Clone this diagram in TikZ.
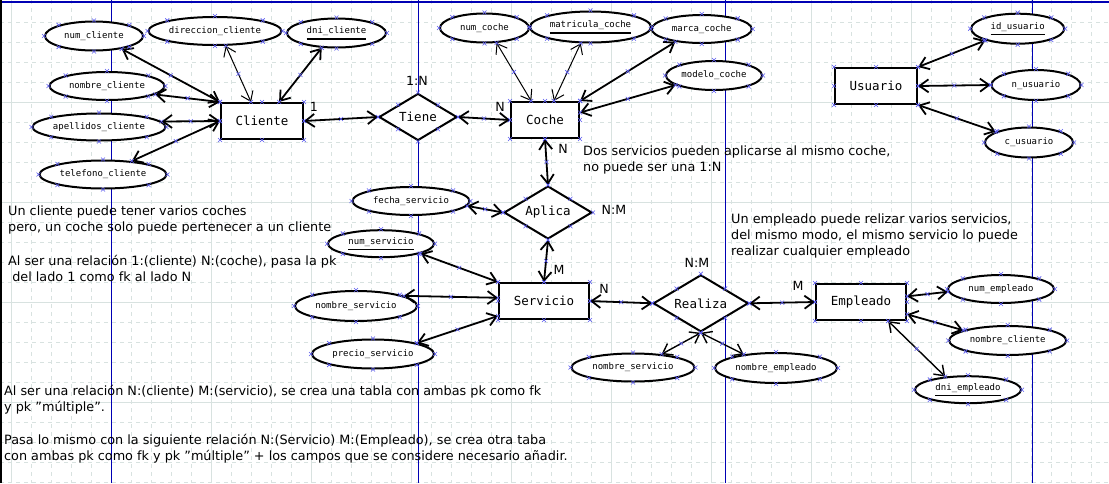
\documentclass[tikz,border=0pt]{standalone}
\usepackage{fontspec}
\setmainfont{DejaVu Sans}
\setmonofont{DejaVu Sans Mono}
\usetikzlibrary{shapes.geometric,arrows.meta,decorations.markings}
\definecolor{gridgray}{RGB}{216,226,224}
\definecolor{pageblue}{RGB}{0,0,180}
\definecolor{selblue}{RGB}{90,90,240}
\newcommand{\pkey}[1]{\vtop{\hbox{#1}\kern2.5pt\hrule height 1.6pt}}
\newcommand{\selcross}{\pgftransformresetnontranslations\draw[selx] (-2pt,-2pt) -- (2pt,2pt) (-2pt,2pt) -- (2pt,-2pt);}

\begin{document}
\begin{tikzpicture}[x=1pt,y=-1pt,
	attr/.style={ellipse,draw,line width=2pt,fill=white,inner sep=0pt,font=\ttfamily\fontsize{9}{10}\selectfont},
	entity/.style={rectangle,draw,line width=2pt,fill=white,inner sep=0pt,minimum height=36pt,font=\ttfamily\fontsize{12.5}{14}\selectfont},
	rel/.style={diamond,aspect=2,draw,line width=2pt,fill=white,inner sep=0pt,font=\ttfamily\fontsize{12.5}{14}\selectfont},
	card/.style={inner sep=0pt,font=\fontsize{12.6}{14}\selectfont},
	note/.style={align=left,anchor=base west,inner sep=0pt,font=\fontsize{12.8}{16}\selectfont},
	selx/.style={-,draw=selblue,line width=0.6pt},
	link/.style={<->,>={Straight Barb[length=9pt,width=13pt]},line width=1.8pt,
		postaction={decorate},decoration={markings,mark=at position 0 with {\selcross},
		mark=at position 0.5 with {\selcross},mark=at position 1 with {\selcross}}},
	thinlink/.style={link,line width=1pt}]
	\useasboundingbox (0,0) rectangle (1109,483);
	\fill[white] (0,0) rectangle (1109,483);
	\foreach \i in {0,...,55}
	\draw[gridgray,line width=0.8pt,dash pattern=on 4pt off 4pt] ({11.7+20*\i},0) -- ({11.7+20*\i},483);
	\foreach \j in {0,...,24}
	\draw[gridgray,line width=0.8pt,dash pattern=on 4pt off 4pt] (0,{2.7+20*\j}) -- (1109,{2.7+20*\j});
	\foreach \i in {0,...,10}
	\draw[gridgray,line width=0.8pt] ({11.7+100*\i},0) -- ({11.7+100*\i},483);
	\foreach \j in {0,...,4}
	\draw[gridgray,line width=0.8pt] (0,{2.7+100*\j}) -- (1109,{2.7+100*\j});
	\foreach \x in {111.5,418.5,725.5,1032.5}
	\draw[pageblue,line width=1pt] (\x,0) -- (\x,483);
	\draw[pageblue,line width=2pt] (0,2) -- (1109,2);
	\draw[black,line width=1.5pt] (0.75,0) -- (0.75,483);

	\node[entity,minimum width=82pt] (cliente) at (262,121) {Cliente};
	\node[entity,minimum width=68pt] (coche) at (545,120) {Coche};
	\node[entity,minimum width=82pt] (usuario) at (876,86) {Usuario};
	\node[entity,minimum width=90pt] (servicio) at (544,301) {Servicio};
	\node[entity,minimum width=90pt] (empleado) at (861,302) {Empleado};

	\node[rel,minimum width=78pt,minimum height=47pt] (tiene) at (418,117) {Tiene};
	\node[rel,minimum width=88pt,minimum height=53pt] (aplica) at (548,212.5) {Aplica};
	\node[rel,minimum width=95pt,minimum height=57pt] (realiza) at (700.8,303.3) {Realiza};

	\node[attr,minimum width=98pt,minimum height=29pt] (numcliente) at (94,36) {num\_cliente};
	\node[attr,minimum width=133pt,minimum height=28pt] (direccion) at (215,31) {direccion\_cliente};
	\node[attr,minimum width=99pt,minimum height=29pt] (dnicliente) at (336.5,33) {\pkey{dni\_cliente}};
	\node[attr,minimum width=115pt,minimum height=28pt] (nombrecliente) at (107,86) {nombre\_cliente};
	\node[attr,minimum width=133pt,minimum height=27pt] (apellidos) at (99,127) {apellidos\_cliente};
	\node[attr,minimum width=127pt,minimum height=28pt] (telefono) at (103,174.5) {telefono\_cliente};
	\node[attr,minimum width=89pt,minimum height=29pt] (numcoche) at (484.5,28) {num\_coche};
	\node[attr,minimum width=121pt,minimum height=31pt] (matricula) at (590.5,27) {\pkey{matricula\_coche}};
	\node[attr,minimum width=100pt,minimum height=28pt] (marca) at (701.7,29) {marca\_coche};
	\node[attr,minimum width=96pt,minimum height=29pt] (modelo) at (714,75.5) {modelo\_coche};
	\node[attr,minimum width=93pt,minimum height=30pt] (idusuario) at (1017.7,28.7) {\pkey{id\_usuario}};
	\node[attr,minimum width=89pt,minimum height=30pt] (nusuario) at (1036,85) {n\_usuario};
	\node[attr,minimum width=88pt,minimum height=30pt] (cusuario) at (1029,142.5) {c\_usuario};
	\node[attr,minimum width=117pt,minimum height=28pt] (fecha) at (411,201) {fecha\_servicio};
	\node[attr,minimum width=106pt,minimum height=27pt] (numservicio) at (381,243.7) {\pkey{num\_servicio}};
	\node[attr,minimum width=122pt,minimum height=30pt] (nomservicio) at (356,306) {nombre\_servicio};
	\node[attr,minimum width=122pt,minimum height=29pt] (precio) at (373,354) {precio\_servicio};
	\node[attr,minimum width=123pt,minimum height=28pt] (nomservicioB) at (633,367.5) {nombre\_servicio};
	\node[attr,minimum width=122pt,minimum height=30pt] (nomempleado) at (776,368) {nombre\_empleado};
	\node[attr,minimum width=106pt,minimum height=28pt] (numempleado) at (1001,289) {num\_empleado};
	\node[attr,minimum width=117pt,minimum height=29pt] (nomclienteB) at (1007.7,340.5) {nombre\_cliente};
	\node[attr,minimum width=106pt,minimum height=27pt] (dniempleado) at (968,389.7) {\pkey{dni\_empleado}};

	\draw[link] (numcliente.-25) -- (cliente.north west);
	\draw[link] (nombrecliente.-10) -- (cliente.north west);
	\draw[link] (apellidos.5) -- (cliente.west);
	\draw[link] (telefono.25) -- (cliente.west);
	\draw[thinlink] (direccion.-54) -- (cliente.120);
	\draw[link] (dnicliente.-135) -- (cliente.48);
	\draw[link] (cliente.east) -- (tiene.west);
	\draw[link] (tiene.east) -- (coche.west);
	\draw[thinlink] (numcoche.-51) -- (coche.126);
	\draw[thinlink] (matricula.-121) -- (coche.65);
	\draw[link] (marca.-154) -- (coche.north east);
	\draw[link] (modelo.-166) -- (coche.12);
	\draw[link] (coche.south) -- (aplica.north);
	\draw[link] (fecha.-5) -- (aplica.west);
	\draw[link] (aplica.south) -- (servicio.north);
	\draw[link] (numservicio.-14) -- (servicio.north west);
	\draw[link] (nomservicio.12) -- (servicio.176);
	\draw[link] (precio.14) -- (servicio.-162);
	\draw[link] (servicio.east) -- (realiza.west);
	\draw[link] (realiza.east) -- (empleado.west);
	\draw[link,line width=1.4pt] (realiza.south) -- (nomservicioB.25);
	\draw[link,line width=1.4pt] (realiza.south) -- (nomempleado.157);
	\draw[link] (empleado.7) -- (numempleado.-177);
	\draw[link] (empleado.-15) -- (nomclienteB.167);
	\draw[link,line width=1.4pt] (empleado.-35) -- (dniempleado.150);
	\draw[link] (usuario.north east) -- (idusuario.-160);
	\draw[link] (usuario.east) -- (nusuario.west);
	\draw[link] (usuario.south east) -- (cusuario.162);

	\foreach \n in {cliente,coche,usuario,servicio,empleado,tiene,aplica,realiza,
		numcliente,direccion,dnicliente,nombrecliente,apellidos,telefono,numcoche,matricula,
		marca,modelo,idusuario,nusuario,cusuario,fecha,numservicio,nomservicio,precio,
		nomservicioB,nomempleado,numempleado,nomclienteB,dniempleado}
	\foreach \a in {north,south,east,west,north east,north west,south east,south west}
	\draw[selx] (\n.\a) +(-2pt,-2pt) -- +(2pt,2pt) +(-2pt,2pt) -- +(2pt,-2pt);

	\node[card] (cardA) at (314,107) {1};
	\node[card] (cardB) at (417,81) {1:N};
	\node[card] (cardC) at (500,107) {N};
	\node[card] (cardD) at (563,149) {N};
	\node[card] (cardE) at (614,210) {N:M};
	\node[card] (cardF) at (559,270) {M};
	\node[card] (cardG) at (604,289) {N};
	\node[card] (cardH) at (697,263) {N:M};
	\node[card] (cardI) at (798,286) {M};

	\node[note] (noteA) at (8,231.5) {Un cliente puede tener varios coches\\pero, un coche solo puede pertenecer a un cliente};
	\node[note] (noteB) at (8,281.5) {Al ser una relación 1:(cliente) N:(coche), pasa la pk\\\hspace*{0.32em}del lado 1 como fk al lado N};
	\node[note] (noteC) at (583,171.5) {Dos servicios pueden aplicarse al mismo coche,\\no puede ser una 1:N};
	\node[note] (noteD) at (731,255.5) {Un empleado puede relizar varios servicios,\\del mismo modo, el mismo servicio lo puede\\realizar cualquier empleado};
	\node[note] (noteE) at (4,411.5) {Al ser una relación N:(cliente) M:(servicio), se crea una tabla con ambas pk como fk\\y pk "múltiple".};
	\node[note] (noteF) at (4,460.5) {Pasa lo mismo con la siguiente relación N:(Servicio) M:(Empleado), se crea otra taba\\con ambas pk como fk y pk "múltiple" + los campos que se considere necesario añadir.};
\end{tikzpicture}
\end{document}
